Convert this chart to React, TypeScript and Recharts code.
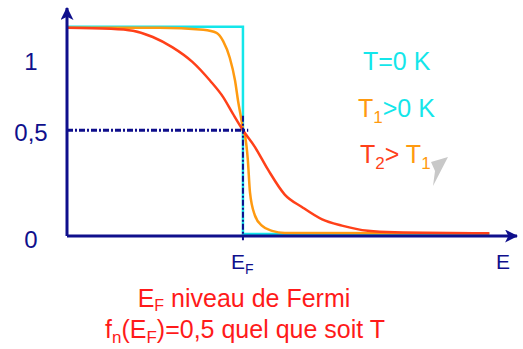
import { LineChart, Line, XAxis, YAxis, ReferenceLine } from "recharts";

const NAVY = "#0f0f8c";
const CYAN = "#14e6ea";
const ORANGE = "#ff9a10";
const RED = "#ff4019";
const FONT = "'Liberation Sans', Arial, sans-serif";

// energy (arbitrary units, E_F = 4) and occupation f(E)
const EF = 4;
const stepE = [0, 4, 4, 9.6];
const stepF = [1, 1, 0, 0];
const warmE = [0, 2.1, 3.1, 3.4, 3.55, 3.7, 3.82, 3.89, 3.98, 4.0, 4.05, 4.11, 4.16, 4.27, 4.43, 4.66, 4.95, 9.6];
const warmF = [0.995, 0.995, 0.985, 0.97, 0.93, 0.85, 0.74, 0.64, 0.53, 0.5, 0.47, 0.36, 0.2, 0.09, 0.04, 0.015, 0.005, 0.003];
const hotE = [0, 1, 1.5, 1.95, 2.4, 2.85, 3.25, 3.55, 3.77, 4.0, 4.27, 4.57, 4.95, 5.34, 5.8, 6.25, 6.84, 7.45, 9.6];
const hotF = [0.995, 0.99, 0.98, 0.95, 0.9, 0.83, 0.74, 0.66, 0.58, 0.5, 0.42, 0.31, 0.19, 0.13, 0.07, 0.04, 0.015, 0.008, 0.003];

const yTicks = [0, 0.5, 1];
const yLabels = ["0", "0,5", "1"];
const xMax = 10.23;
const xTicks = [EF, xMax];

const toPoints = (es: number[], fs: number[]) => es.map((e, i) => ({ e, f: fs[i] }));

const YTick = ({ y, payload }: any) => {
  const i = yTicks.indexOf(payload.value);
  // the "1" label sits lower than its level in the original drawing
  const dy = payload.value === 1 ? 43 : payload.value === 0 ? 14 : 11;
  return (
    <text x={31} y={y + dy} textAnchor="middle" fill={NAVY} fontSize={24} fontFamily={FONT}>
      {yLabels[i]}
    </text>
  );
};

const XTick = ({ x, y, payload }: any) => {
  if (payload.value === EF) {
    return (
      <text x={x - 12} y={y + 25} fill={NAVY} fontSize={21} fontFamily={FONT}>
        E<tspan dy={5} fontSize={14}>F</tspan>
      </text>
    );
  }
  return (
    <text x={x - 9} y={y + 25} fill={NAVY} fontSize={21} fontFamily={FONT}>
      E
    </text>
  );
};

const dashDot = "6 2 2 2";

export default function App() {
  return (
    <div style={{ position: "absolute", left: 0, top: 0, width: 523, height: 349, background: "#fff", overflow: "hidden" }}>
      <LineChart width={523} height={349} margin={{ top: 8, right: 6, left: 0, bottom: 73 }} style={{ overflow: "visible" }}>
        <defs>
          <marker id="arrowHead" viewBox="0 0 12 12" refX={11} refY={6} markerWidth={13} markerHeight={13}
            markerUnits="userSpaceOnUse" orient="auto-start-reverse">
            <path d="M0,0 L12,6 L0,12 L3,6 Z" fill={NAVY} />
          </marker>
        </defs>
        <XAxis
          type="number"
          dataKey="e"
          domain={[0, xMax]}
          ticks={xTicks}
          height={40}
          tick={<XTick />}
          tickLine={false}
          axisLine={{ stroke: NAVY, strokeWidth: 3, markerEnd: "url(#arrowHead)" }}
          allowDataOverflow
        />
        <YAxis
          type="number"
          dataKey="f"
          domain={[-0.01, 1.09]}
          ticks={yTicks}
          width={67}
          tick={<YTick />}
          tickLine={false}
          axisLine={{ stroke: NAVY, strokeWidth: 3, markerStart: "url(#arrowHead)" }}
          allowDataOverflow
        />
        <Line data={toPoints(stepE, stepF)} dataKey="f" type="linear" stroke={CYAN} strokeWidth={2.5} dot={false} isAnimationActive={false} />
        <Line data={toPoints(warmE, warmF)} dataKey="f" type="monotone" stroke={ORANGE} strokeWidth={2.5} dot={false} isAnimationActive={false} />
        <Line data={toPoints(hotE, hotF)} dataKey="f" type="monotone" stroke={RED} strokeWidth={2.5} dot={false} isAnimationActive={false} />
        <ReferenceLine segment={[{ x: 0, y: 0.5 }, { x: 4.12, y: 0.5 }]} stroke={NAVY} strokeWidth={3} strokeDasharray={dashDot} ifOverflow="visible" />
        <ReferenceLine segment={[{ x: EF, y: 0.57 }, { x: EF, y: -0.03 }]} stroke={NAVY} strokeWidth={2} strokeDasharray={dashDot} ifOverflow="visible" />
      </LineChart>
      <svg width={523} height={349} style={{ position: "absolute", left: 0, top: 0, pointerEvents: "none" }} fontFamily={FONT}>
        <text x={363} y={70} fontSize={25} fill={CYAN}>T=0 K</text>
        <text x={358} y={117} fontSize={25}>
          <tspan fill={ORANGE}>T</tspan>
          <tspan fill={ORANGE} dy={6} fontSize={17}>1</tspan>
          <tspan fill={CYAN} dy={-6}>&gt;0 K</tspan>
        </text>
        <text x={360} y={163} fontSize={25}>
          <tspan fill={RED}>T</tspan>
          <tspan fill={RED} dy={6} fontSize={17}>2</tspan>
          <tspan fill={RED} dy={-6}>&gt; </tspan>
          <tspan fill={ORANGE}>T</tspan>
          <tspan fill={ORANGE} dy={6} fontSize={17}>1</tspan>
        </text>
        <polygon points="431,162 448,157 433,186 435,171" fill="#c8c8c8" />
        <text x={244} y={307} fontSize={25} fill="#ff1a1a" textAnchor="middle">
          E<tspan dy={4} fontSize={16}>F</tspan><tspan dy={-4}> niveau de Fermi</tspan>
        </text>
        <text x={245} y={338} fontSize={25} fill="#ff1a1a" textAnchor="middle">
          f<tspan dy={5} fontSize={17}>n</tspan><tspan dy={-5}>(E</tspan><tspan dy={5} fontSize={17}>F</tspan><tspan dy={-5}>)=0,5 quel que soit T</tspan>
        </text>
      </svg>
    </div>
  );
}
